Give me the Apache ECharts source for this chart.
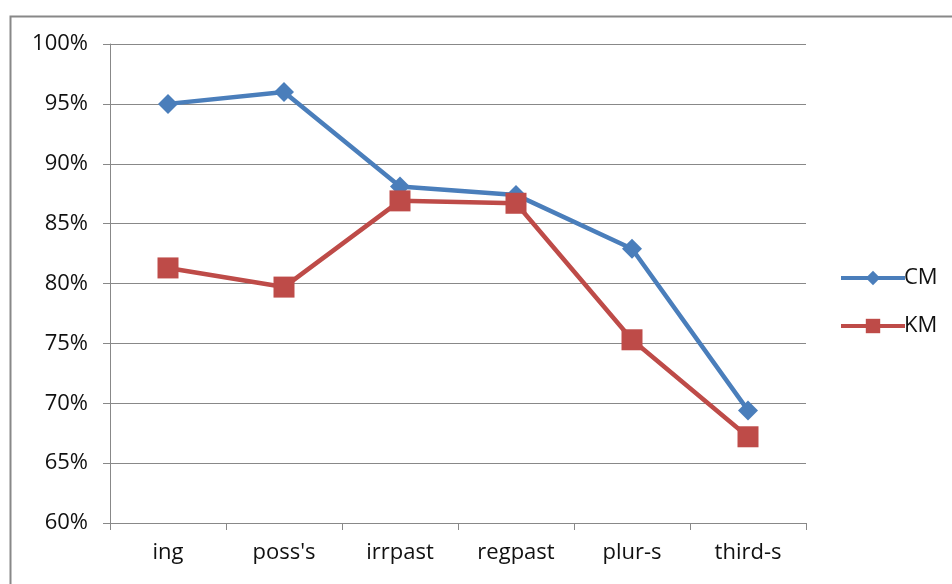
<!DOCTYPE html>
<html><head><meta charset="utf-8">
<script src="https://cdn.jsdelivr.net/npm/echarts@6/dist/echarts.min.js"></script>
<style>html,body{margin:0;padding:0;background:#fff}#c{width:952px;height:584px}</style>
</head><body><div id="c"></div>
<script>
const categories = ["ing", "poss's", "irrpast", "regpast", "plur-s", "third-s"];
const cmValues = [95.0, 96.0, 88.1, 87.4, 82.9, 69.4];
const kmValues = [81.3, 79.7, 86.9, 86.7, 75.3, 67.2];
const yTicks = [60, 65, 70, 75, 80, 85, 90, 95, 100];

const chart = echarts.init(document.getElementById('c'), null, {renderer: 'canvas'});
const font = "'Open Sans', 'Liberation Sans', sans-serif";
chart.setOption({
  backgroundColor: '#fff',
  animation: false,
  graphic: [{
    type: 'rect', left: 8, top: 14,
    shape: {width: 960, height: 600},
    style: {fill: 'none', stroke: '#888', lineWidth: 2}
  }],
  grid: {left: 110, right: 146, top: 44, bottom: 61},
  legend: {
    orient: 'vertical', left: 834, top: 262, itemGap: 26,
    itemWidth: 64, itemHeight: 18,
    lineStyle: {width: 4},
    textStyle: {fontFamily: font, fontSize: 22, color: '#111', padding: [0,0,0,-6]},
    data: ['CM', 'KM']
  },
  xAxis: {
    type: 'category', data: categories, boundaryGap: true,
    axisLine: {lineStyle: {color: '#888', width: 1}},
    axisTick: {show: true, length: 7, lineStyle: {color: '#888'}},
    axisLabel: {fontFamily: font, fontSize: 22, color: '#111', margin: 19}
  },
  yAxis: {
    type: 'value', min: yTicks[0], max: yTicks[yTicks.length-1], interval: 5,
    axisLine: {show: true, lineStyle: {color: '#888'}},
    axisTick: {show: true, length: 7, lineStyle: {color: '#888'}},
    splitLine: {lineStyle: {color: '#888', width: 1}},
    axisLabel: {fontFamily: font, fontSize: 22, color: '#111', margin: 22, formatter: v => v + '%'}
  },
  series: [{
    name: 'CM', type: 'line', data: cmValues,
    symbol: 'diamond', symbolSize: 20,
    lineStyle: {color: '#4A7EBB', width: 4.5},
    itemStyle: {color: '#4A7EBB'}
  }, {
    name: 'KM', type: 'line', data: kmValues,
    symbol: 'rect', symbolSize: 21,
    lineStyle: {color: '#BE4B48', width: 4.5},
    itemStyle: {color: '#BE4B48'}
  }]
});
</script></body></html>
